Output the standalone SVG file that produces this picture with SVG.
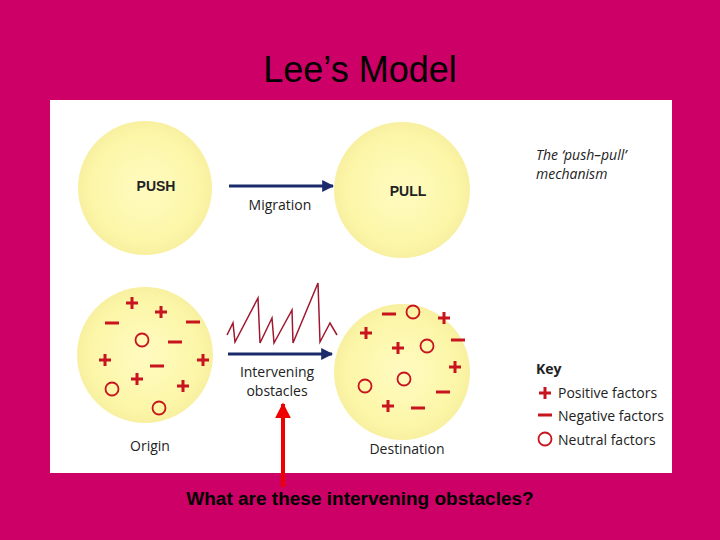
<svg xmlns="http://www.w3.org/2000/svg" width="720" height="540" viewBox="0 0 720 540">
<defs>
<radialGradient id="g"><stop offset="0" stop-color="#fffbc0"/><stop offset="0.8" stop-color="#fcf6a8"/><stop offset="1" stop-color="#f8f0a0"/></radialGradient>
<marker id="ah" viewBox="0 0 10 10" refX="9" refY="5" markerWidth="4" markerHeight="4" orient="auto"><path d="M0,0L10,5L0,10z" fill="#1a2a6a"/></marker>
<marker id="rh" viewBox="0 0 10 10" refX="9" refY="5" markerWidth="4" markerHeight="4" orient="auto"><path d="M0,0L10,5L0,10z" fill="#ee0000"/></marker>
<symbol id="p" viewBox="-6 -6 12 12" overflow="visible"><path d="M-6,0H6M0,-6V6" stroke="#c8141e" stroke-width="3"/></symbol>
<symbol id="m" viewBox="-7 -2 14 4" overflow="visible"><path d="M-7,0H7" stroke="#c8141e" stroke-width="3"/></symbol>
<symbol id="o" viewBox="-7 -7 14 14" overflow="visible"><circle r="6.5" fill="none" stroke="#c8141e" stroke-width="1.8"/></symbol>
</defs>
<style>
.b{fill:url(#g)}
.t{font-family:"Open Sans","DejaVu Sans",sans-serif;fill:#222;font-size:14px}
.h{font-family:"Liberation Sans",Arial,sans-serif;font-weight:bold;fill:#222;font-size:14px}
</style>
<rect width="720" height="540" fill="#cc0066"/>
<text x="360" y="82" text-anchor="middle" font-family="Liberation Sans,Arial,sans-serif" font-size="36" fill="#000">Lee’s Model</text>
<rect x="50" y="100" width="622" height="373" fill="#fff"/>
<g id="push"><circle class="b" cx="145" cy="188" r="67"/><text class="h" x="156" y="191" text-anchor="middle">PUSH</text></g>
<g id="pull"><circle class="b" cx="402" cy="190" r="68"/><text class="h" x="408" y="196" text-anchor="middle">PULL</text></g>
<g id="origin"><circle class="b" cx="145" cy="355" r="68"/>
<use href="#p" x="126" y="297" width="12" height="12"/><use href="#p" x="155" y="306" width="12" height="12"/><use href="#p" x="99" y="354" width="12" height="12"/><use href="#p" x="197" y="354" width="12" height="12"/><use href="#p" x="131" y="373" width="12" height="12"/><use href="#p" x="177" y="380" width="12" height="12"/>
<use href="#m" x="105" y="321" width="14" height="4"/><use href="#m" x="186" y="320" width="14" height="4"/><use href="#m" x="168" y="340" width="14" height="4"/><use href="#m" x="150" y="364" width="14" height="4"/>
<use href="#o" x="135" y="333" width="14" height="14"/><use href="#o" x="105" y="382" width="14" height="14"/><use href="#o" x="152" y="401" width="14" height="14"/>
<text class="t" x="150" y="451" text-anchor="middle">Origin</text></g>
<g id="destination"><circle class="b" cx="402" cy="372" r="68"/>
<use href="#p" x="438" y="312" width="12" height="12"/><use href="#p" x="360" y="327" width="12" height="12"/><use href="#p" x="392" y="342" width="12" height="12"/><use href="#p" x="449" y="361" width="12" height="12"/><use href="#p" x="382" y="400" width="12" height="12"/>
<use href="#m" x="382" y="312" width="14" height="4"/><use href="#m" x="451" y="338" width="14" height="4"/><use href="#m" x="436" y="390" width="14" height="4"/><use href="#m" x="411" y="406" width="14" height="4"/>
<use href="#o" x="406" y="305" width="14" height="14"/><use href="#o" x="420" y="339" width="14" height="14"/><use href="#o" x="358" y="379" width="14" height="14"/><use href="#o" x="397" y="372" width="14" height="14"/>
<text class="t" x="407" y="454" text-anchor="middle">Destination</text></g>
<g id="connectors">
<line x1="229" y1="186" x2="333" y2="186" stroke="#1a2a6a" stroke-width="3" marker-end="url(#ah)"/>
<line x1="228" y1="354" x2="332" y2="354" stroke="#1a2a6a" stroke-width="3" marker-end="url(#ah)"/>
<polyline points="227,335 233,323 235,342 258,298 260,343 272,318 274,343 292,310 293,343 318,283 320,342 330,323 337,335" fill="none" stroke="#a01830" stroke-width="1.5"/>
<line x1="283" y1="487" x2="283" y2="404" stroke="#ee0000" stroke-width="4" marker-end="url(#rh)"/>
</g>
<text class="t" x="280" y="210" text-anchor="middle">Migration</text>
<text class="t" x="277" y="377" text-anchor="middle">Intervening</text>
<text class="t" x="277" y="396" text-anchor="middle">obstacles</text>
<text class="t" x="536" y="160" font-style="italic">The ‘push–pull’</text>
<text class="t" x="536" y="179" font-style="italic">mechanism</text>
<g id="key">
<text class="t" x="536" y="374" font-weight="bold">Key</text>
<use href="#p" x="539" y="387" width="12" height="12"/><text class="t" x="558" y="398">Positive factors</text>
<use href="#m" x="538" y="413" width="14" height="4"/><text class="t" x="558" y="421">Negative factors</text>
<use href="#o" x="538" y="432" width="14" height="14"/><text class="t" x="558" y="445">Neutral factors</text>
</g>
<text x="360" y="505" text-anchor="middle" font-family="Liberation Sans,Arial,sans-serif" font-weight="bold" font-size="19" fill="#000">What are these intervening obstacles?</text>
</svg>
